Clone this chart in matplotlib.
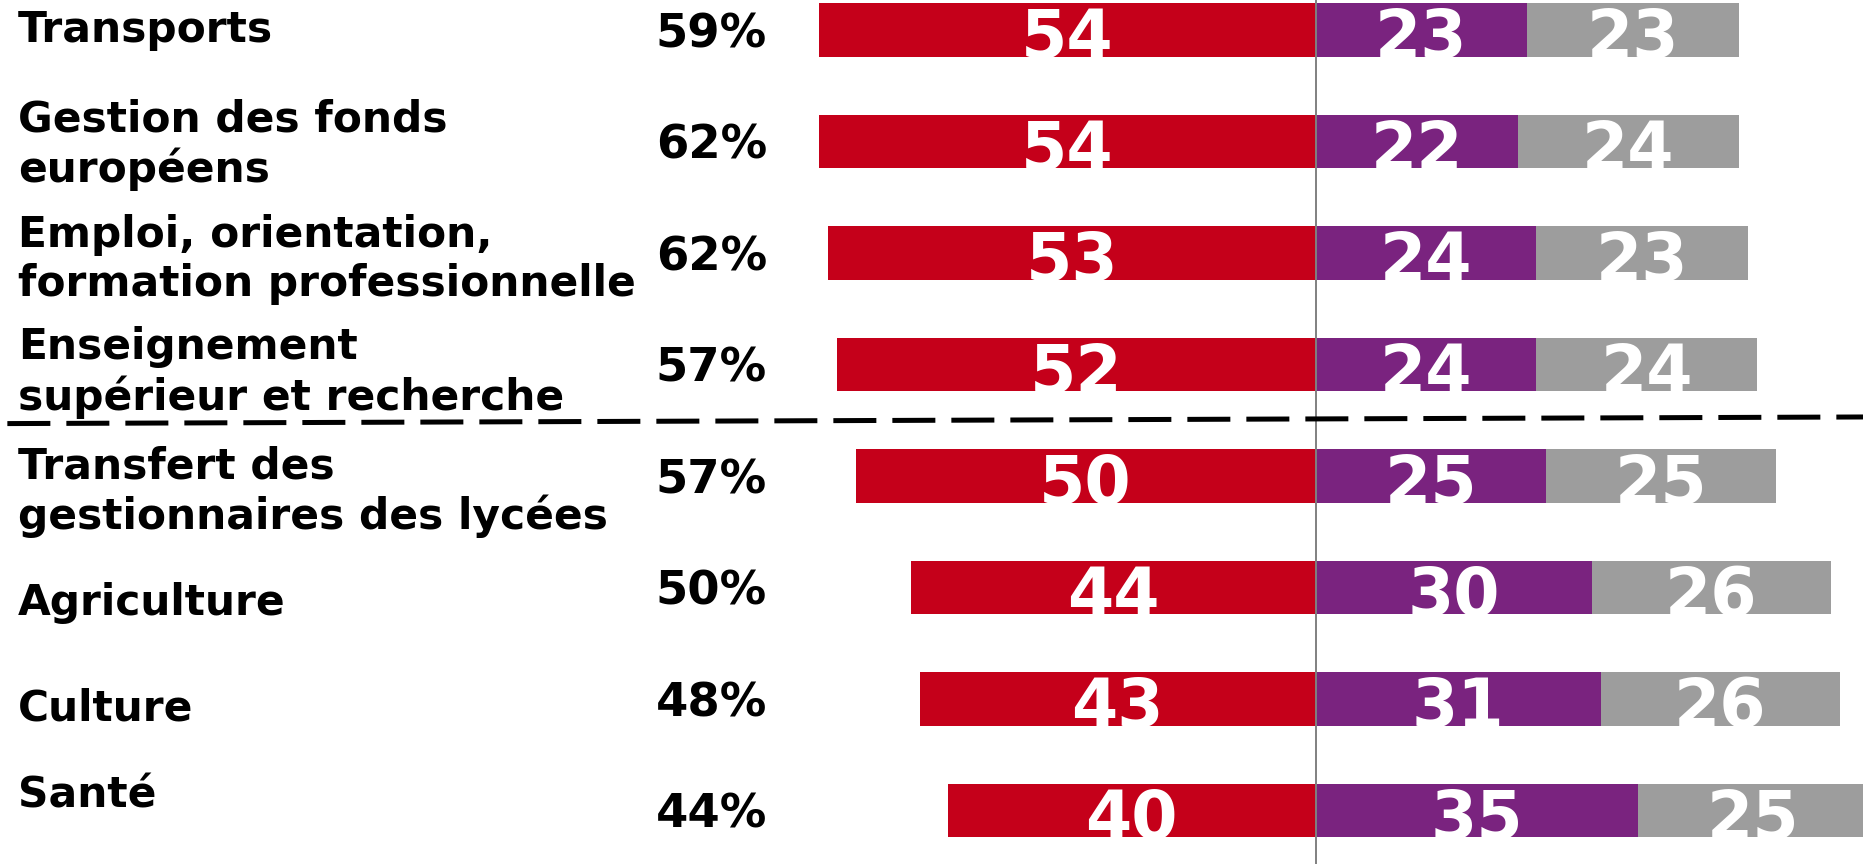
""" Barres divergentes par domaine """

import numpy as np
import matplotlib.pyplot as plt

# Données
categories = ['Transports',
              'Gestion des fonds\neuropéens',
              'Emploi, orientation,\nformation professionnelle',
              'Enseignement\nsupérieur et recherche',
              'Transfert des\ngestionnaires des lycées',
              'Agriculture',
              'Culture',
              'Santé']
pourcentages = ['59%', '62%', '62%', '57%', '57%', '50%', '48%', '44%']
rouge = [54, 54, 53, 52, 50, 44, 43, 40]
violet = [23, 22, 24, 24, 25, 30, 31, 35]
gris = [23, 24, 23, 24, 25, 26, 26, 25]

# petits décalages verticaux des libellés (comme sur l'original)
decalage = [0.0, 0.03, 0.06, 0.075, 0.14, 0.14, 0.085, -0.13]

c_rouge = '#C5001A'
c_violet = '#7A237F'
c_gris = '#9D9D9D'

y = np.arange(len(categories))
rouge = np.array(rouge)
violet = np.array(violet)
gris = np.array(gris)

fig = plt.figure(figsize=(18.63, 8.64), dpi=100)
ax = fig.add_axes([0, 0, 1, 1])
ax.axis('off')

h = 0.48
ax.barh(y, -rouge, height=h, color=c_rouge)
ax.barh(y, violet, height=h, color=c_violet)
ax.barh(y, gris, left=violet, height=h, color=c_gris)

# Valeurs dans les barres
style = dict(color='white', fontsize=48, fontweight='bold',
             ha='center', va='center_baseline')
for i in range(len(y)):
    ax.text(-rouge[i] / 2, y[i] + 0.02, str(rouge[i]), **style)
    ax.text(violet[i] / 2, y[i] + 0.02, str(violet[i]), **style)
    ax.text(violet[i] + gris[i] / 2, y[i] + 0.02, str(gris[i]), **style)

# Libellés et pourcentages
trans = ax.get_yaxis_transform()
for i in range(len(y)):
    ax.text(0.0097, y[i] + decalage[i], categories[i], transform=trans,
            fontsize=30.5, fontweight='bold', ha='left', va='center',
            linespacing=1.22)
    ax.text(0.4117, y[i], pourcentages[i], transform=trans, fontsize=33.5,
            fontweight='bold', ha='right', va='center_baseline')

ax.axvline(0, color='#808080', lw=1.4)
ax.plot([-142.2, 62], [3.53, 3.47], color='black', lw=3.6, dashes=(8.6, 3.2))

ax.set_xlim(-143.0, 59.5)
ax.set_ylim(7.48, -0.269)

plt.savefig('out.png', dpi=100)
